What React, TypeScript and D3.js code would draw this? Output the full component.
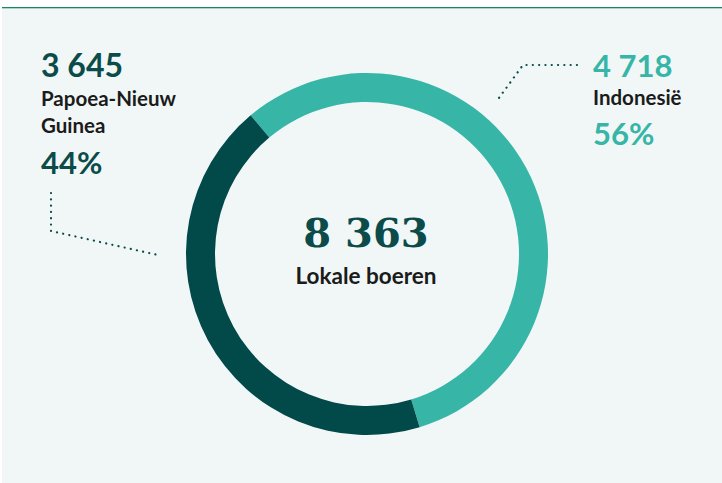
import React from "react";
import * as d3 from "d3";

// Farmer counts per country
const countries = ["Indonesië", "Papoea-Nieuw Guinea"];
const farmers = [4718, 3645];
const total = 8363;
const colors = ["#37b5a7", "#02494a"];

const W = 722;
const H = 483;
const cx = 367;
const cy = 254;
const outerR = 181;
const innerR = 152;

const fmt = (n: number) => d3.format(",")(n).replace(/,/g, " ");
const pct = (n: number) => `${Math.round((n / total) * 100)}%`;

export default function App() {
  const pie = d3
    .pie<number>()
    .sort(null)
    .value((d) => d)
    .startAngle((-40 * Math.PI) / 180)
    .endAngle((320 * Math.PI) / 180);
  const arcs = pie(farmers);
  const arc = d3.arc<d3.PieArcDatum<number>>().innerRadius(innerR).outerRadius(outerR);

  const sans = "Lato, 'Open Sans', sans-serif";
  const serif = "'DejaVu Serif', 'Liberation Serif', serif";
  const dark = "#0b4b49";
  const teal = "#37b5a7";
  const ink = "#1b1b1b";

  const dot = { stroke: "#0b4b49", strokeWidth: 2.2, strokeDasharray: "0.1 6.2", strokeLinecap: "round" as const, fill: "none" };

  return (
    <svg
      width={W}
      height={H}
      viewBox={`0 0 ${W} ${H}`}
      style={{ position: "absolute", left: 0, top: 0, display: "block" }}
    >
      <rect x={0} y={0} width={W} height={H} fill="#ffffff" />
      <rect x={2} y={7} width={W - 2} height={H - 7} fill="#f1f7f7" />
      <line x1={2} x2={W} y1={7.5} y2={7.5} stroke="#1c8467" strokeWidth={1} />
      <line x1={2} x2={W} y1={8.5} y2={8.5} stroke="#a9d6c9" strokeWidth={1} />

      <g transform={`translate(${cx},${cy})`}>
        {arcs.map((a, i) => (
          <path key={countries[i]} d={arc(a) || ""} fill={colors[i]} />
        ))}
      </g>

      {/* centre total */}
      <text x={366} y={247} textAnchor="middle" fontFamily={serif} fontWeight={700} fontSize={40} fill={dark}>
        {fmt(total)}
      </text>
      <text x={366} y={284} textAnchor="middle" fontFamily={sans} fontWeight={700} fontSize={22.5} fill={ink}>
        Lokale boeren
      </text>

      {/* Papoea-Nieuw Guinea callout */}
      <text x={41} y={77} fontFamily={sans} fontWeight={700} fontSize={32} fill={dark}>
        {fmt(farmers[1])}
      </text>
      <text x={41} y={106} fontFamily={sans} fontWeight={700} fontSize={20.5} fill={ink}>
        Papoea-Nieuw
      </text>
      <text x={41} y={133} fontFamily={sans} fontWeight={700} fontSize={20.5} fill={ink}>
        Guinea
      </text>
      <text x={41} y={174} fontFamily={sans} fontWeight={700} fontSize={31} fill={dark}>
        {pct(farmers[1])}
      </text>
      <polyline points="51,193 51,231 158,255" {...dot} />

      {/* Indonesië callout */}
      <text x={593} y={77} fontFamily={sans} fontWeight={700} fontSize={31} fill={teal}>
        {fmt(farmers[0])}
      </text>
      <text x={593} y={105} fontFamily={sans} fontWeight={700} fontSize={20.5} fill={ink}>
        {countries[0]}
      </text>
      <text x={593} y={145} fontFamily={sans} fontWeight={700} fontSize={31} fill={teal}>
        {pct(farmers[0])}
      </text>
      <polyline points="577,65 523,65 496,102" {...dot} />
    </svg>
  );
}
